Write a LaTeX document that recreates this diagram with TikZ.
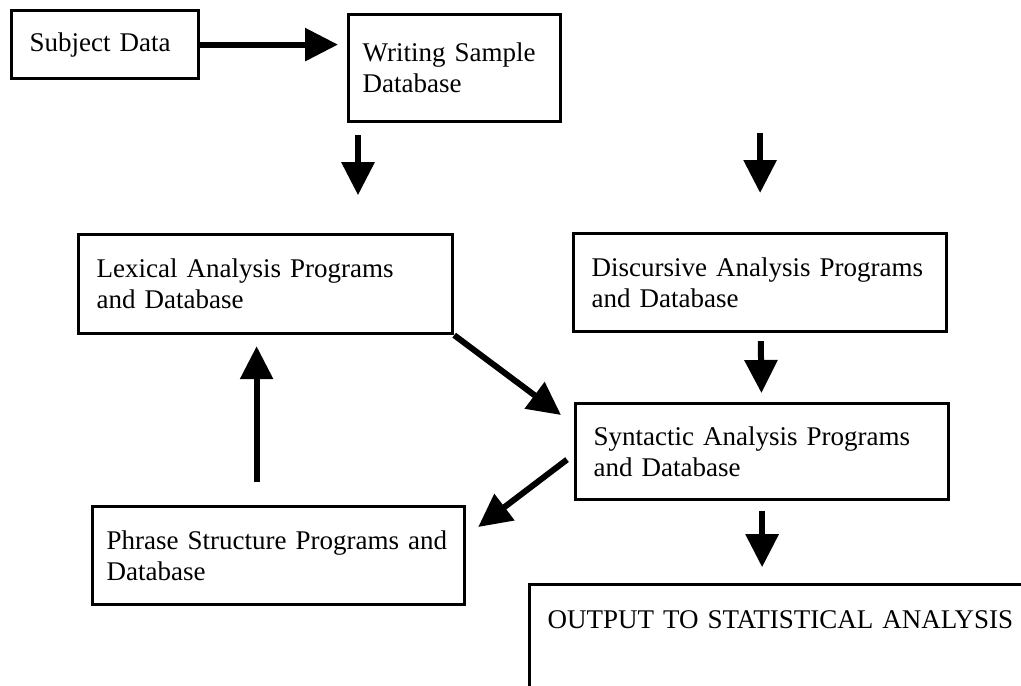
\documentclass[tikz,border=0pt]{standalone}
\usepackage{fontspec}
\setmainfont{Liberation Serif}
\usetikzlibrary{positioning,arrows.meta,calc}

\begin{document}
\begin{tikzpicture}[
			x=0.5pt,y=-0.5pt,
			block/.style={draw,line width=1.6pt,anchor=north west,align=left,inner xsep=9pt,
				font=\fontsize{13.5}{15.5}\selectfont},
			link/.style={->,line width=3pt},
			>={Triangle[length=16.5pt,width=16pt]}
			]
			
			\useasboundingbox (0,0) rectangle (1021,685);
			\clip (0,0) rectangle (1021,685);
			
			\node[block,text width=75.5pt,minimum height=34pt] (subj) at (10,9)
			{Subject Data};
			
			\node[block,inner xsep=7pt,text width=92pt,minimum height=53.5pt] (write) at (347,13)
			{Writing Sample\\Database};
			
			\node[block,text width=169pt,minimum height=49.5pt] (lex) at (77,233)
			{Lexical Analysis Programs\\and Database};
			
			\node[block,text width=168.5pt,minimum height=49pt] (disc) at (572,232)
			{Discursive Analysis Programs\\and Database};
			
			\node[block,text width=168.5pt,minimum height=48pt] (synt) at (574,402)
			{Syntactic Analysis Programs\\and Database};
			
			\node[block,inner xsep=7pt,text width=172pt,minimum height=49pt] (phr) at (91,505)
			{Phrase Structure Programs and\\Database};
			
			\node[block,text width=260pt,text height=13pt,text depth=100pt,inner ysep=9pt] (out) at (528,583)
			{OUTPUT TO STATISTICAL ANALYSIS};
			
			\draw[link,shorten >=4.5pt] (subj.east) -- (subj.east -| write.west);
			\draw[link] ($(write.south west)+(11,12)$) -- ++(0,60);
			\draw[link] ($(disc.north)+(0,-99)$) -- ++(0,60);
			\draw[link,shorten <=4pt,shorten >=4.5pt] (disc) -- (synt);
			\draw[link] (lex.south east) -- ($(synt.north west)+(-13,13)$);
			\draw[link] ($(synt.west)+(-7,8)$) -- ($(phr.north east)+(12,22)$);
			\draw[link] ($(phr.north)+(-22,-23)$) -- ($(lex.south)+(-9,11)$);
			\draw[link,shorten <=5pt] (synt.south) -- ++(0,66);
			
		\end{tikzpicture}
\end{document}
